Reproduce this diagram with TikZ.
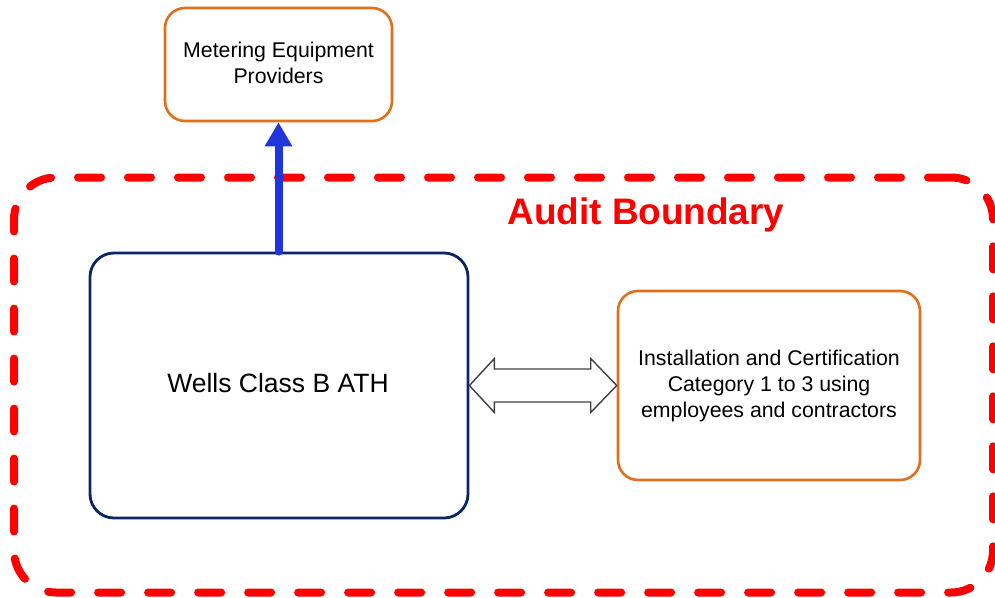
\documentclass[tikz,border=0pt]{standalone}
\usepackage{fontspec}
\setmainfont{Liberation Sans}
\usetikzlibrary{arrows.meta,calc}
\definecolor{boxorange}{HTML}{E0701C}
\definecolor{boxnavy}{HTML}{0B2565}
\definecolor{arrowblue}{HTML}{2035DC}
\definecolor{bred}{HTML}{FF0000}
\begin{document}
\begin{tikzpicture}[x=1pt,y=-1pt,
  orangebox/.style={draw=boxorange,line width=2.6pt,rounded corners=20pt,rectangle,inner sep=0pt,align=center,font=\fontsize{21.3}{26}\selectfont},
  navybox/.style={draw=boxnavy,line width=2.8pt,rounded corners=24pt,rectangle,inner sep=0pt,align=center,font=\fontsize{26.5}{32}\selectfont},
  boundbox/.style={draw=bred,line width=8pt,line cap=round,dash pattern=on 23pt off 27pt,rounded corners=42pt,rectangle,inner sep=0pt},
  bluearrow/.style={draw=arrowblue,line width=8pt,line cap=round,-{Triangle[width=26pt,length=24pt]}},
  hollowarrow/.style={draw=black!75,line width=1.4pt,fill=white,line join=miter}
]
\useasboundingbox (0,0) rectangle (995,597);
\node[boundbox,minimum width=979pt,minimum height=415pt] (bound) at (503.5,385) {};
\node[font=\bfseries\fontsize{36.9}{40}\selectfont,text=bred] (label) at (646,215) {Audit Boundary};
\node[orangebox,minimum width=227pt,minimum height=113pt] (met) at (278.5,64.5) {};
\node[align=center,font=\fontsize{21.3}{26}\selectfont,inner sep=0pt] (mettext) at (278.5,62.5) {Metering Equipment\\Providers};
\node[navybox,minimum width=378pt,minimum height=265pt] (wells) at (279,385.5) {};
\node[font=\fontsize{26.5}{32}\selectfont,inner sep=0pt] (wellstext) at (278,383.5) {Wells Class B ATH};
\node[orangebox,minimum width=302pt,minimum height=189pt] (inst) at (769,385.5) {Installation and Certification\\Category 1 to 3 using\\employees and contractors};
\draw[bluearrow] (met.south |- wells.north) -- (met.south);
\draw[hollowarrow] (wells.east)
  -- ($(wells.east)+(25,-27)$) -- ($(wells.east)+(25,-16.5)$)
  -- ($(inst.west)+(-26,-16.5)$) -- ($(inst.west)+(-26,-27)$)
  -- (inst.west)
  -- ($(inst.west)+(-26,27)$) -- ($(inst.west)+(-26,16.5)$)
  -- ($(wells.east)+(25,16.5)$) -- ($(wells.east)+(25,27)$) -- cycle;
\end{tikzpicture}
\end{document}
